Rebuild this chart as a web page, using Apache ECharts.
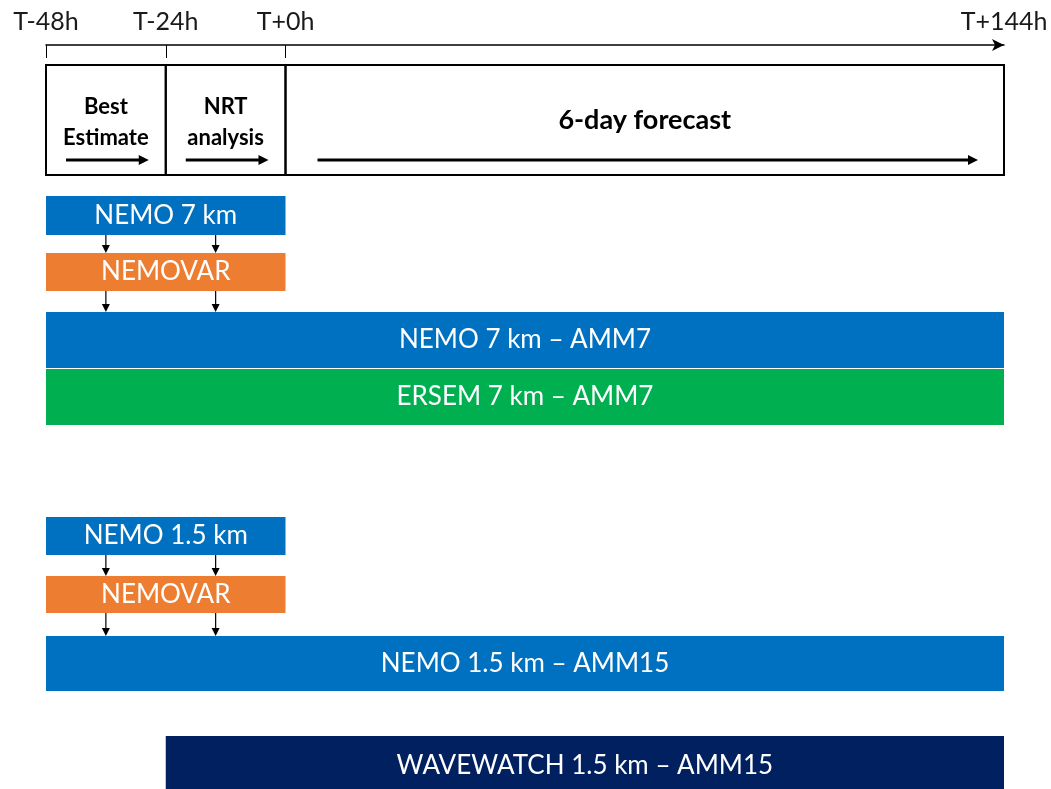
<!DOCTYPE html>
<html><head><meta charset="utf-8">
<script src="https://cdn.jsdelivr.net/npm/echarts@6/dist/echarts.min.js"></script>
<style>html,body{margin:0;padding:0;background:#fff}#c{width:1051px;height:789px}</style>
</head><body><div id="c"></div>
<script>
// ---- data ----
const timeTicks = [-48, -24, 0, 144];
const phaseNames = ['Best\nEstimate', 'NRT\nanalysis', '6-day forecast'];
const phaseStart = [-48, -24, 0];
const phaseEnd = [-24, 0, 144];
const barLabels = ['NEMO 7 km', 'NEMOVAR', 'NEMO 7 km \u2013 AMM7', 'ERSEM 7 km \u2013 AMM7',
                   'NEMO 1.5 km', 'NEMOVAR', 'NEMO 1.5 km \u2013 AMM15', 'WAVEWATCH 1.5 km \u2013 AMM15'];
const barStart = [-48, -48, -48, -48, -48, -48, -48, -24];
const barEnd   = [0, 0, 144, 144, 0, 0, 144, 144];
const feedHours = [-36, -14];            // times of the data-flow arrows
const feedFrom = [0, 1, 4, 5];           // bar index that each arrow pair leaves
const feedTo   = [1, 2, 5, 6];           // bar index that it enters

// ---- layout / style ----
const barColors = ['#0070C0', '#ED7D31', '#0070C0', '#00B050', '#0070C0', '#ED7D31', '#0070C0', '#002060'];
const rowTop = [196, 253, 312, 369, 517, 576, 636, 736];
const rowBot = [235, 291, 368, 425, 555, 613, 691, 800];
const boxTop = 65, boxBot = 175;
const FONT = 'Lato, "Liberation Sans", sans-serif';

const chart = echarts.init(document.getElementById('c'));

const barData = barLabels.map((n, i) => [barStart[i], barEnd[i], i]);
const phaseData = phaseNames.map((n, i) => [phaseStart[i], phaseEnd[i], i]);
const feedData = [];
feedFrom.forEach((f, k) => feedHours.forEach(h => feedData.push([h, f, feedTo[k]])));

chart.setOption({
  animation: false,
  grid: [
    {left: 46, right: 47, top: 0, bottom: 0},
    {left: 46, right: 47, top: 45, height: 100}
  ],
  xAxis: [
    {gridIndex: 0, type: 'value', min: -48, max: 144, show: false},
    {gridIndex: 1, type: 'value', min: -48, max: 144, position: 'top', z: 10,
     axisLine: {show: true, onZero: false, lineStyle: {color: '#000', width: 1.5}, symbol: ['none', 'arrow'], symbolSize: [9, 12]},
     axisTick: {show: true, inside: true, length: 13, customValues: timeTicks.slice(0, 3), lineStyle: {color: '#000', width: 1}},
     axisLabel: {show: true, customValues: timeTicks, margin: 11, fontSize: 25, color: '#1a1a1a', fontFamily: FONT,
       formatter: v => v < 0 ? 'T' + v + 'h' : 'T+' + v + 'h'},
     splitLine: {show: false}}
  ],
  yAxis: [
    {gridIndex: 0, type: 'value', min: 0, max: 789, inverse: true, show: false},
    {gridIndex: 1, type: 'value', min: 0, max: 1, show: false}
  ],
  series: [
    {
      type: 'custom', xAxisIndex: 0, yAxisIndex: 0, data: phaseData,
      renderItem: (params, api) => {
        const i = api.value(2);
        const x0 = api.coord([api.value(0), 0])[0];
        const x1 = api.coord([api.value(1), 0])[0];
        const y0 = api.coord([0, boxTop])[1], y1 = api.coord([0, boxBot])[1];
        const big = i === 2;
        const ins = big ? [32, 26] : [20, 17];
        const ay = y0 + 95;
        const children = [
          {type: 'rect', shape: {x: x0, y: y0, width: x1 - x0, height: y1 - y0},
           style: {fill: 'none', stroke: '#000', lineWidth: 2}},
          {type: 'line', shape: {x1: x0 + ins[0], y1: ay, x2: x1 - ins[1] - 8, y2: ay},
           style: {stroke: '#000', lineWidth: 3}},
          {type: 'polygon', shape: {points: [[x1 - ins[1] - 10, ay - 5], [x1 - ins[1], ay], [x1 - ins[1] - 10, ay + 5]]},
           style: {fill: '#000'}},
          {type: 'text', style: {text: phaseNames[i], x: (x0 + x1) / 2, y: big ? y0 + 55 : y0 + 57,
             align: 'center', verticalAlign: 'middle', fill: '#000',
             font: 'bold ' + (big ? 27 : 22) + 'px ' + FONT, lineHeight: 31}}
        ];
        return {type: 'group', children};
      }
    },
    {
      type: 'custom', xAxisIndex: 0, yAxisIndex: 0, data: barData,
      renderItem: (params, api) => {
        const i = api.value(2);
        const p0 = api.coord([api.value(0), rowTop[i]]);
        const p1 = api.coord([api.value(1), rowBot[i]]);
        const yc = (p0[1] + p1[1]) / 2;
        return {type: 'group', children: [
          {type: 'rect', shape: {x: p0[0], y: p0[1], width: p1[0] - p0[0], height: p1[1] - p0[1]},
           style: {fill: barColors[i]}},
          {type: 'text', style: {text: barLabels[i], x: (p0[0] + p1[0]) / 2, y: i === 7 ? 766 : yc,
             align: 'center', verticalAlign: 'middle', fill: '#fff', font: '26px ' + FONT}}
        ]};
      }
    },
    {
      type: 'custom', xAxisIndex: 0, yAxisIndex: 0, data: feedData, z: 5,
      renderItem: (params, api) => {
        const x = api.coord([api.value(0), 0])[0];
        const ya = api.coord([0, rowBot[api.value(1)]])[1];
        const yb = api.coord([0, rowTop[api.value(2)]])[1];
        return {type: 'group', children: [
          {type: 'line', shape: {x1: x, y1: ya, x2: x, y2: yb - 6}, style: {stroke: '#000', lineWidth: 1.2}},
          {type: 'polygon', shape: {points: [[x - 4, yb - 8], [x + 4, yb - 8], [x, yb]]}, style: {fill: '#000'}}
        ]};
      }
    }
  ]
});
</script></body></html>
